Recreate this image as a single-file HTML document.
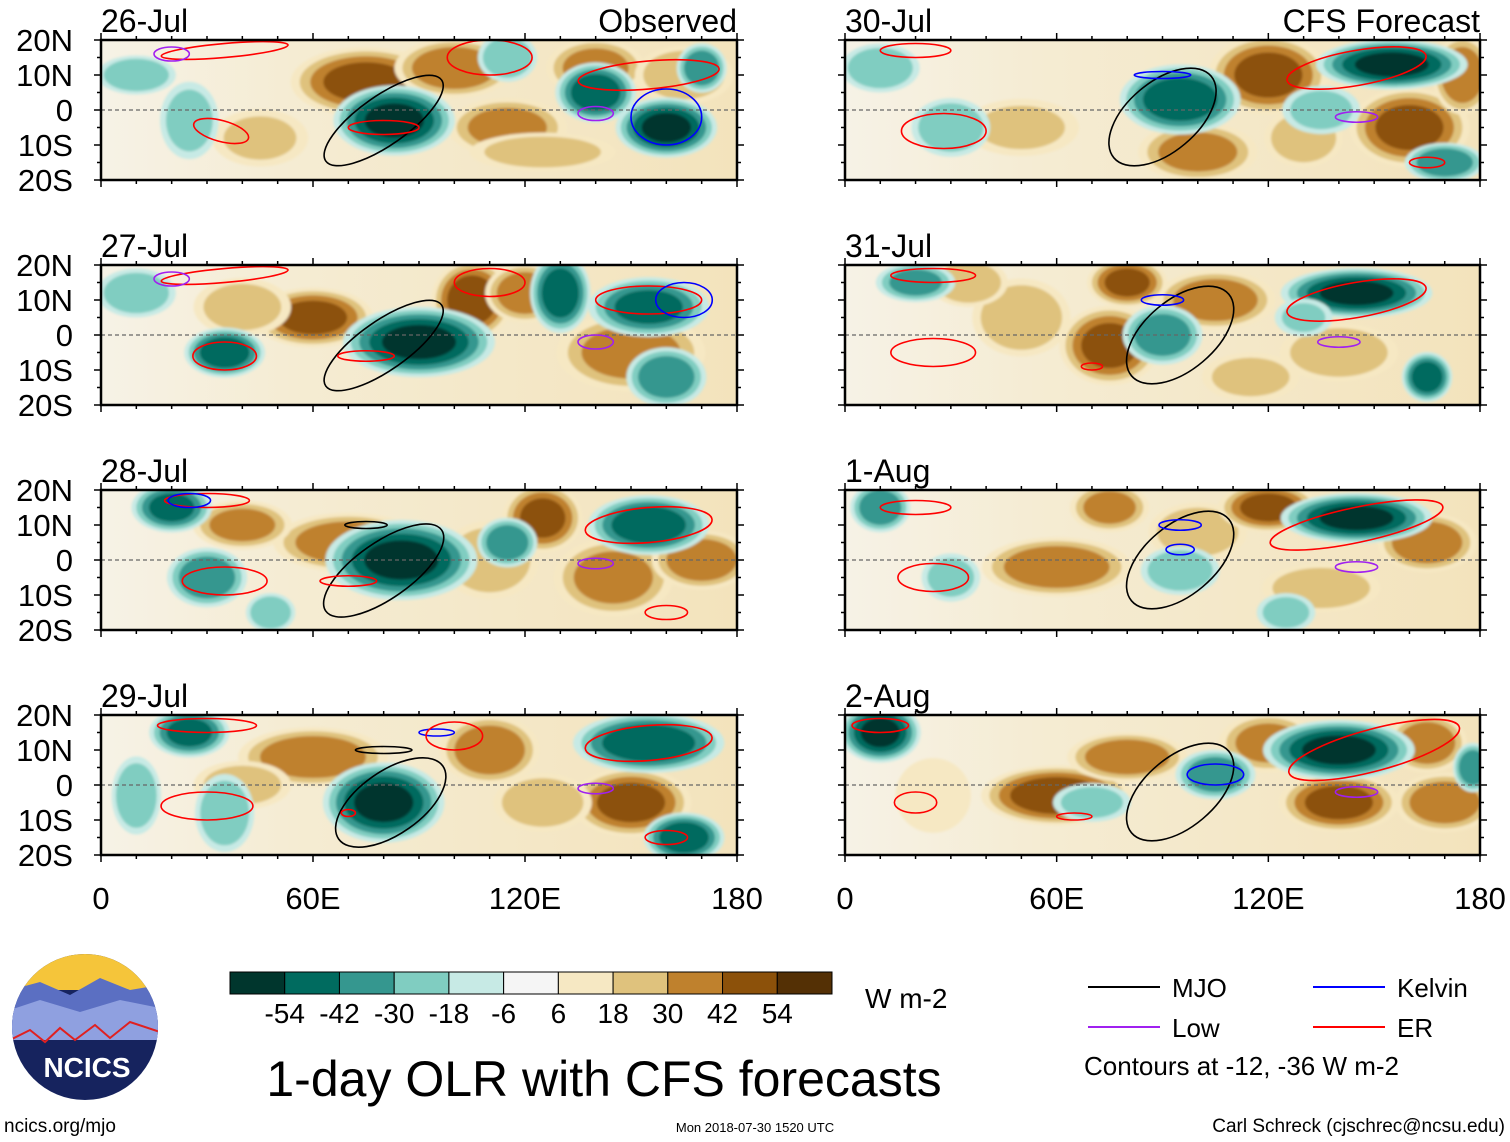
<!DOCTYPE html>
<html><head><meta charset="utf-8">
<style>
body{margin:0;background:#fff;font-family:"Liberation Sans",sans-serif;}
svg{display:block}
</style></head><body>
<svg id="chart" width="1510" height="1142" viewBox="0 0 1510 1142" xmlns="http://www.w3.org/2000/svg" font-family="Liberation Sans, sans-serif">
<defs>
<filter id="soft"><feGaussianBlur stdDeviation="1.2"/></filter>
<linearGradient id="basegrad" x1="0" x2="1" y1="0" y2="0">
<stop offset="0" stop-color="#f6f2e6"/><stop offset="0.3" stop-color="#f5ecd3"/><stop offset="1" stop-color="#f3e3bc"/>
</linearGradient>
</defs>
<g id="panels"></g>
<g id="legendArea"></g>
</svg>
<script>
const panelTitles=["26-Jul","27-Jul","28-Jul","29-Jul","30-Jul","31-Jul","1-Aug","2-Aug"];
const yTickLabels=["20N","10N","0","10S","20S"];
const yTickLats=[20,10,0,-10,-20];
const xTickLabels=["0","60E","120E","180"];
const xTickLons=[0,60,120,180];
const levelValues=[-54,-42,-30,-18,-6,6,18,30,42,54];
const levelColors=["#00362d","#006b5f","#35978f","#80cdc1","#c7eae5","#f5f5f5","#f6e8c3","#dfc27d","#bf812d","#8c510a","#543005"];
// blobs: [lon, lat, radiusLon, radiusLat, OLR anomaly]
const blobs0=[[75,8,15,7,45],[100,12,12,6,40],[115,-5,12,6,35],[140,12,10,6,35],[165,10,10,6,30],[45,-8,10,6,20],[125,-12,15,4,25],[83,-3,12,7,-55],[140,5,8,6,-50],[160,-5,10,6,-55],[10,10,8,4,-30],[25,-3,6,8,-25],[115,15,6,5,-30],[170,12,5,5,-40]];
const blobs1=[[60,5,12,6,45],[105,10,8,8,50],[120,12,8,6,40],[150,-5,15,8,35],[40,8,10,6,25],[90,-2,15,7,-55],[35,-5,8,5,-50],[130,12,6,8,-50],[155,8,12,6,-45],[160,-12,8,6,-40],[10,12,8,5,-30]];
const blobs2=[[70,5,15,6,40],[40,10,10,5,35],[110,0,10,8,30],[125,12,8,7,45],[145,-5,12,8,35],[170,0,10,6,40],[85,0,15,8,-55],[30,-5,8,6,-40],[20,15,8,5,-45],[155,10,12,6,-50],[115,5,6,5,-40],[48,-15,5,4,-30]];
const blobs3=[[60,8,15,6,40],[110,10,10,7,40],[150,-5,12,7,45],[40,0,10,5,25],[125,-5,10,6,30],[80,-5,12,8,-55],[25,15,8,5,-45],[155,12,15,6,-50],[10,-3,5,8,-30],[165,-15,8,5,-50],[35,-8,6,8,-30]];
const blobs4=[[120,10,12,8,45],[160,-5,12,8,45],[100,-12,12,6,35],[50,-5,12,6,20],[130,-8,8,6,30],[175,10,6,8,40],[95,3,12,7,-50],[155,13,15,5,-55],[30,-5,8,6,-30],[10,12,8,5,-30],[135,0,8,5,-25],[170,-15,8,4,-40]];
const blobs5=[[75,-3,10,8,45],[105,10,12,6,40],[140,-5,12,6,30],[50,5,10,8,30],[35,15,8,5,30],[115,-12,10,5,25],[80,15,8,5,45],[90,0,8,6,-40],[145,12,15,5,-55],[20,15,8,4,-35],[165,-12,5,5,-50],[130,5,6,4,-20]];
const blobs6=[[60,-2,15,6,40],[100,8,10,6,30],[120,15,10,5,45],[165,5,10,6,40],[75,15,8,5,35],[135,-8,12,5,30],[145,12,15,5,-55],[10,15,6,5,-40],[95,-3,8,5,-30],[30,-5,6,5,-25],[125,-15,6,4,-25]];
const blobs7=[[60,-3,15,6,50],[80,8,12,5,40],[140,-5,12,6,45],[170,-5,10,6,40],[120,12,10,6,35],[165,12,8,6,40],[25,-3,8,8,15],[10,15,8,6,-55],[140,10,15,6,-55],[105,3,8,5,-40],[70,-5,8,4,-25],[178,5,4,5,-40]];
const allBlobs=[blobs0,blobs1,blobs2,blobs3,blobs4,blobs5,blobs6,blobs7];
// contours: [type, lon, lat, radiusLon, radiusLat, rotationDeg]
const contours0=[["mjo",80,-3,20,7,-35],["er",34,-6,8,3,15],["er",80,-5,10,2,0],["er",35,17,18,2,-5],["er",155,10,20,4,-5],["kel",160,-2,10,8,0],["low",20,16,5,2,0],["low",140,-1,5,2,0],["er",110,15,12,5,0]];
const contours1=[["mjo",80,-3,20,7,-35],["er",35,-6,9,4,0],["er",75,-6,8,1.5,0],["er",35,17,18,2,-5],["er",155,10,15,4,0],["kel",165,10,8,5,0],["low",20,16,5,2,0],["low",140,-2,5,2,0],["er",110,15,10,4,0]];
const contours2=[["mjo",80,-3,20,8,-35],["er",35,-6,12,4,0],["er",70,-6,8,1.5,0],["er",30,17,12,2,0],["er",155,10,18,5,-5],["kel",25,17,6,2,0],["low",140,-1,5,1.5,0],["er",160,-15,6,2,0],["mjo",75,10,6,1,0]];
const contours3=[["mjo",82,-5,18,9,-35],["er",30,-6,13,4,0],["er",70,-8,2,1,0],["er",30,17,14,2,0],["er",155,12,18,5,-5],["kel",95,15,5,1,0],["low",140,-1,5,1.5,0],["er",160,-15,6,2,0],["mjo",80,10,8,1,0],["er",100,14,8,4,0]];
const contours4=[["mjo",90,-2,18,10,-40],["er",28,-6,12,5,0],["er",145,12,20,5,-10],["er",20,17,10,2,0],["low",145,-2,6,1.5,0],["er",165,-15,5,1.5,0],["kel",90,10,8,1,0]];
const contours5=[["mjo",95,0,18,10,-40],["er",25,-5,12,4,0],["er",145,10,20,5,-10],["er",25,17,12,2,0],["low",140,-2,6,1.5,0],["kel",90,10,6,1.5,0],["er",70,-9,3,1,0]];
const contours6=[["mjo",95,0,18,10,-40],["er",25,-5,10,4,0],["er",145,10,25,5,-12],["er",20,15,10,2,0],["low",145,-2,6,1.5,0],["kel",95,10,6,1.5,0],["kel",95,3,4,1.5,0]];
const contours7=[["mjo",95,-2,18,10,-40],["er",20,-5,6,3,0],["er",150,10,25,6,-15],["er",10,17,8,2,0],["low",145,-2,6,1.5,0],["kel",105,3,8,3,0],["er",65,-9,5,1,0]];
const allContours=[contours0,contours1,contours2,contours3,contours4,contours5,contours6,contours7];
const contourColors={mjo:"#000",er:"#ff0000",kel:"#0000ff",low:"#a020f0"};

const NS="http://www.w3.org/2000/svg";
function mk(tag,attrs,parent){const e=document.createElementNS(NS,tag);for(const k in attrs)e.setAttribute(k,attrs[k]);if(parent)parent.appendChild(e);return e;}
function colorFor(v){let i=0;while(i<levelValues.length&&v>levelValues[i])i++;return levelColors[i];}
const panelsG=document.getElementById('panels');
const colX=[101,845],PW=[636,635],rowY=[40,265,490,715],PH=140;
const GROW=1.5;

for(let p=0;p<8;p++){
  const col=p<4?0:1,row=p%4;
  const x0=colX[col],y0=rowY[row],w=PW[col];
  const xs=lon=>x0+lon/180*w, ys=lat=>y0+(20-lat)/40*PH;
  const g=mk('g',{},panelsG);
  
  
  mk('clipPath',{id:'clip'+p},g).appendChild(mk('rect',{x:x0,y:y0,width:w,height:PH}));
  const field=mk('g',{'clip-path':'url(#clip'+p+')'},g);
  mk('rect',{x:x0,y:y0,width:w,height:PH,fill:'url(#basegrad)'},field);
  const fg=mk('g',{filter:'url(#soft)'},field);
  allBlobs[p].forEach(b=>{
    const [lon,lat,rl,ra,v]=b;const a=Math.abs(v),s=Math.sign(v);
    const th=[6,18,30,42,54].filter(t=>t<a);
    th.forEach(t=>{
      const sc=Math.sqrt(1-t/(a+14));
      const e=mk('ellipse',{cx:xs(lon),cy:ys(lat),rx:rl*GROW/180*w*sc,ry:ra*GROW/40*PH*sc,fill:colorFor(s*(t+1))},fg);
      
      
    });
  });
  mk('line',{x1:x0,x2:x0+w,y1:ys(0),y2:ys(0),stroke:'#666','stroke-dasharray':'4,3','stroke-width':1.2},field);
  allContours[p].forEach(c=>{
    const [t,lon,lat,rl,ra,rot]=c;
    const e=mk('ellipse',{cx:xs(lon),cy:ys(lat),rx:rl/180*w,ry:ra/40*PH,fill:'none',stroke:contourColors[t],'stroke-width':1.6,transform:`rotate(${rot} ${xs(lon)} ${ys(lat)})`},field);
    
    
  });
  mk('rect',{x:x0,y:y0,width:w,height:PH,fill:'none',stroke:'#000','stroke-width':2.5},g);
  for(let lon=0;lon<=180;lon+=10){
    const L=lon%60===0?7:4;
    mk('line',{x1:xs(lon),x2:xs(lon),y1:y0-L,y2:y0,stroke:'#000','stroke-width':1.5},g);
    mk('line',{x1:xs(lon),x2:xs(lon),y1:y0+PH,y2:y0+PH+L,stroke:'#000','stroke-width':1.5},g);
  }
  for(let lat=-20;lat<=20;lat+=5){
    const L=lat%10===0?7:4;
    mk('line',{x1:x0-L,x2:x0,y1:ys(lat),y2:ys(lat),stroke:'#000','stroke-width':1.5},g);
    mk('line',{x1:x0+w,x2:x0+w+L,y1:ys(lat),y2:ys(lat),stroke:'#000','stroke-width':1.5},g);
  }
  const tt=mk('text',{x:x0,y:y0-8,'font-size':32},g);tt.textContent=panelTitles[p];
  
  if(row===0){const h=mk('text',{x:x0+w,y:y0-8,'font-size':32,'text-anchor':'end'},g);h.textContent=col===0?'Observed':'CFS Forecast';
    }
  if(col===0){yTickLats.forEach((lat,i)=>{const t=mk('text',{x:73,y:ys(lat)+11,'font-size':31,'text-anchor':'end'},g);t.textContent=yTickLabels[i];
    });}
  if(row===3){xTickLons.forEach((lon,i)=>{const t=mk('text',{x:xs(lon),y:909,'font-size':31,'text-anchor':'middle'},g);t.textContent=xTickLabels[i];
    });}
}

// colorbar
const lg=document.getElementById('legendArea');
const cbX=230,cbW=602,cbY=972,cbH=22,n=levelColors.length,bw=cbW/n;
levelColors.forEach((c,i)=>{const r=mk('rect',{x:cbX+i*bw,y:cbY,width:bw,height:cbH,fill:c,stroke:'#000','stroke-width':1},lg);
  });
levelValues.forEach((v,i)=>{const t=mk('text',{x:cbX+(i+1)*bw,y:1023,'font-size':28,'text-anchor':'middle'},lg);t.textContent=v;
  });
let t=mk('text',{x:865,y:1008,'font-size':28},lg);t.textContent='W m-2';
t=mk('text',{x:604,y:1096,'font-size':50,'text-anchor':'middle'},lg);t.textContent='1-day OLR with CFS forecasts';
const leg=[["MJO","#000",1088,987],["Kelvin","#0000ff",1313,987],["Low","#a020f0",1088,1027],["ER","#ff0000",1313,1027]];
leg.forEach(l=>{mk('line',{x1:l[2],x2:l[2]+72,y1:l[3],y2:l[3],stroke:l[1],'stroke-width':2},lg);
  const tx=mk('text',{x:l[2]+84,y:l[3]+10,'font-size':26},lg);tx.textContent=l[0];});
t=mk('text',{x:1084,y:1075,'font-size':26},lg);t.textContent='Contours at -12, -36 W m-2';
t=mk('text',{x:4,y:1132,'font-size':19},lg);t.textContent='ncics.org/mjo';
t=mk('text',{x:755,y:1132,'font-size':13,'text-anchor':'middle'},lg);t.textContent='Mon 2018-07-30 1520 UTC';
t=mk('text',{x:1505,y:1132,'font-size':19,'text-anchor':'end'},lg);t.textContent='Carl Schreck (cjschrec@ncsu.edu)';
// logo
const logo=mk('g',{},lg);
mk('clipPath',{id:'logoclip'},logo).appendChild(mk('circle',{cx:85,cy:1027,r:73}));
const lc=mk('g',{'clip-path':'url(#logoclip)'},logo);
mk('rect',{x:10,y:950,width:150,height:160,fill:'#16235e'},lc);
mk('rect',{x:10,y:950,width:150,height:40,fill:'#f5c53a'},lc);
mk('path',{d:'M10 990 L40 982 L70 995 L100 978 L130 990 L160 985 L160 1040 L10 1040Z',fill:'#5b6fc2'},lc);
mk('path',{d:'M10 1010 L40 1000 L80 1012 L120 1000 L160 1008 L160 1040 L10 1040Z',fill:'#8fa0e0'},lc);
mk('path',{d:'M10 1040 L30 1030 L45 1042 L60 1028 L75 1040 L95 1025 L110 1038 L130 1022 L160 1032',fill:'none',stroke:'#e02020','stroke-width':2},lc);
t=mk('text',{x:87,y:1077,'font-size':28,'font-weight':'bold',fill:'#fff','text-anchor':'middle'},logo);t.textContent='NCICS';
</script>
</body></html>
